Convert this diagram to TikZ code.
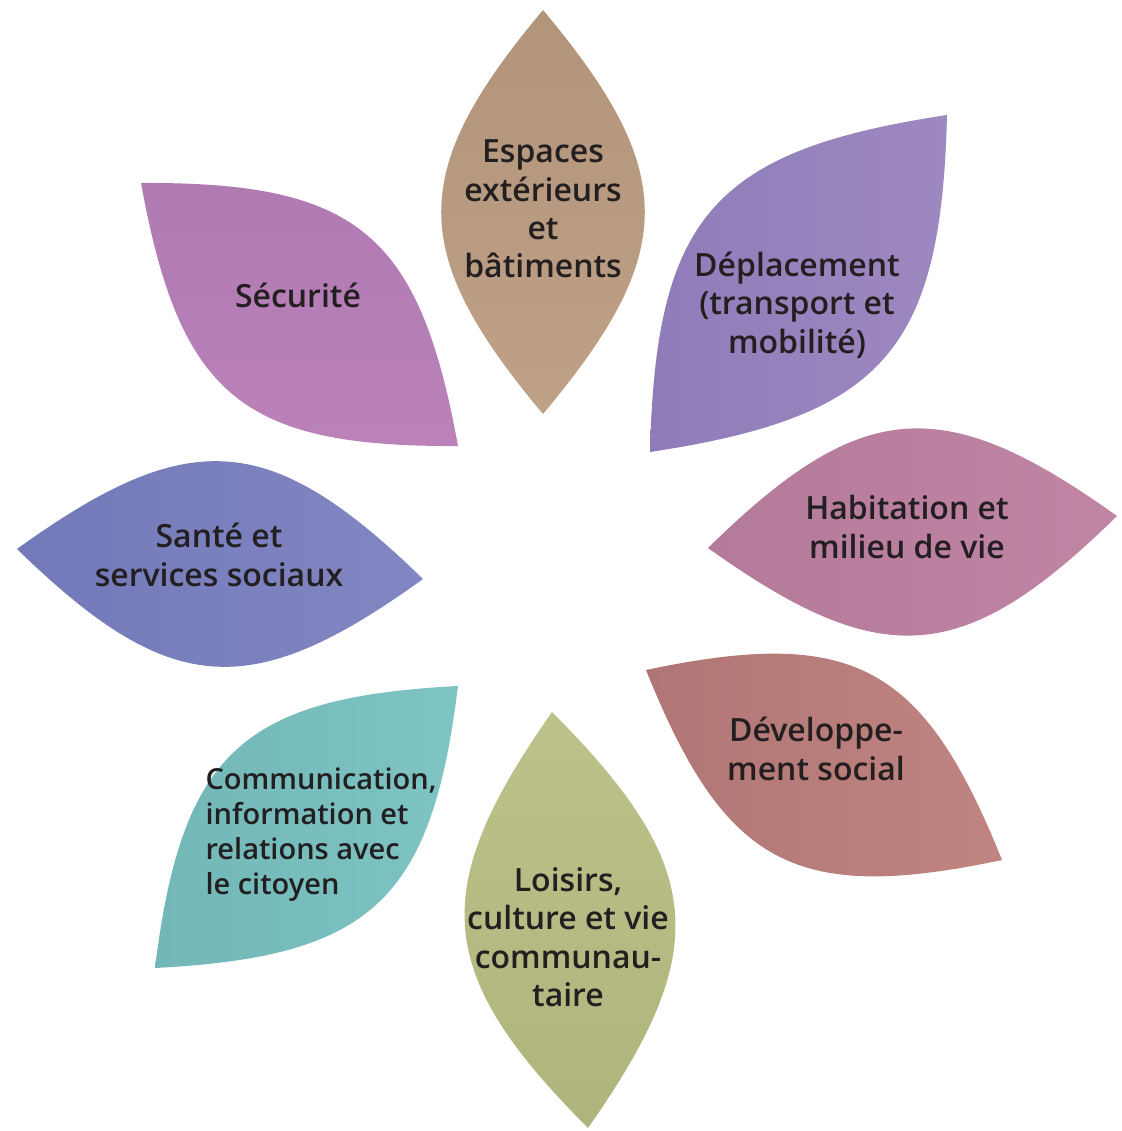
\documentclass[tikz,border=0pt]{standalone}
\usepackage{fontspec}
\IfFontExistsTF{Open Sans Semibold}{\setmainfont{Open Sans Semibold}}{\setmainfont{Open Sans}}
\usepackage{xcolor}
\usepackage{tikz}

\definecolor{encre}{RGB}{35,31,32}

\begin{document}
\begin{tikzpicture}[x=1pt,y=-1pt,
    petale/.style={bend left=40,looseness=1.34},
    texte/.style={text=encre,align=center,font=\fontsize{32}{38.4}\selectfont}]
	\useasboundingbox (0,0) rectangle (1121,1131);

	% les huit petales
	\shade[top color={rgb,255:red,177;green,148;blue,121},bottom color={rgb,255:red,190;green,161;blue,134}]
		(543,10) to[petale] (543,414) to[petale] (543,10);
	\shade[left color={rgb,255:red,142;green,124;blue,185},right color={rgb,255:red,158;green,136;blue,192}]
		(947,115) to[petale] (650,452) to[petale] (947,115);
	\shade[left color={rgb,255:red,180;green,122;blue,154},right color={rgb,255:red,193;green,133;blue,164}]
		(1117,516) to[petale] (708,548) to[petale] (1117,516);
	\shade[left color={rgb,255:red,176;green,118;blue,117},right color={rgb,255:red,192;green,133;blue,129}]
		(646,670) to[petale] (1002,860) to[petale] (646,670);
	\shade[top color={rgb,255:red,188;green,194;blue,138},bottom color={rgb,255:red,174;green,180;blue,124}]
		(552,712) to[petale] (588,1128) to[petale] (552,712);
	\shade[left color={rgb,255:red,115;green,183;blue,183},right color={rgb,255:red,125;green,196;blue,195}]
		(458,686) to[petale] (155,968) to[petale] (458,686);
	\shade[left color={rgb,255:red,115;green,121;blue,185},right color={rgb,255:red,130;green,134;blue,194}]
		(17,549) to[petale] (423,579) to[petale] (17,549);
	\shade[top color={rgb,255:red,176;green,122;blue,179},bottom color={rgb,255:red,187;green,130;blue,185}]
		(141,183) to[petale] (458,446) to[petale] (141,183);

	% les textes
	\node[texte] (espaces) at (543,209) {Espaces\\extérieurs\\et\\bâtiments};
	\node[texte] (deplacement) at (797,305) {Déplacement\\(transport et\\mobilité)};
	\node[texte] (habitation) at (907,527) {Habitation et\\milieu de vie};
	\node[texte] (developpement) at (816,749) {Développe-\\ment social};
	\node[texte] (loisirs) at (568,937) {Loisirs,\\culture et vie\\communau-\\taire};
	\node[texte,align=left,anchor=west,font=\fontsize{29}{35}\selectfont] (communication) at (202,835)
		{Communication,\\information et\\relations avec\\le citoyen};
	\node[texte] (sante) at (219,555) {Santé et\\services sociaux};
	\node[texte] (securite) at (298,295) {Sécurité};
\end{tikzpicture}
\end{document}
